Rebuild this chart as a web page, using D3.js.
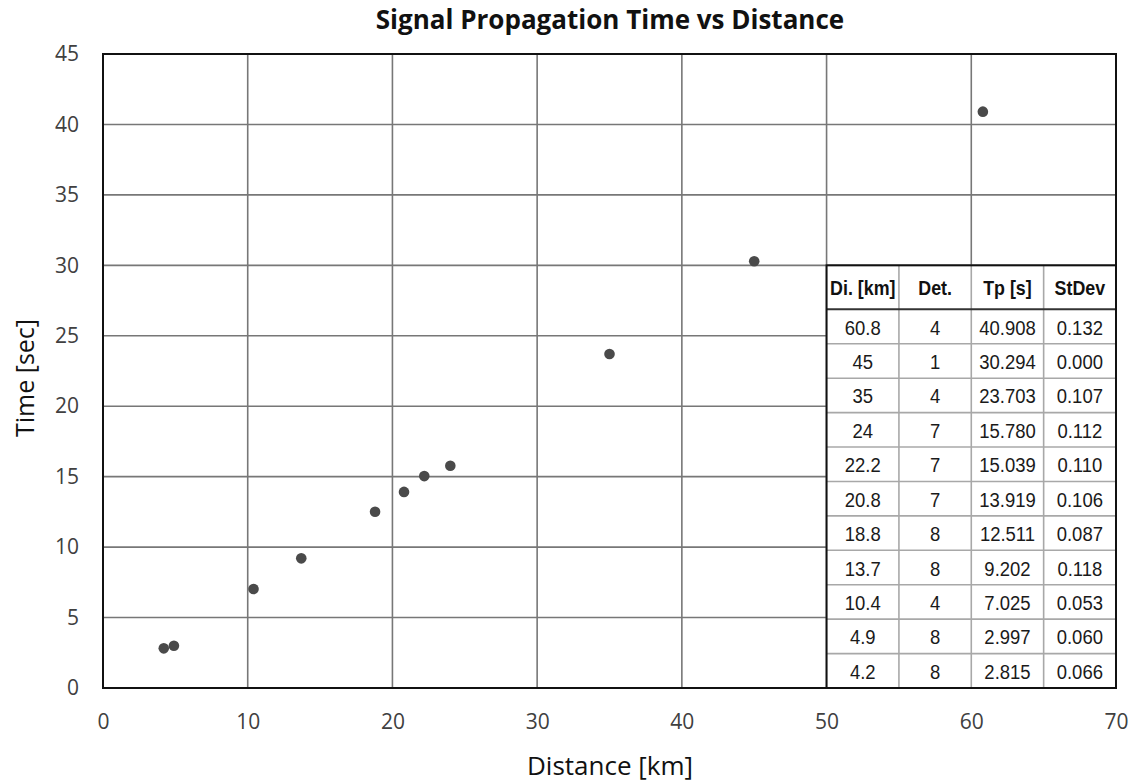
<!DOCTYPE html>
<html><head><meta charset="utf-8">
<script src="https://cdn.jsdelivr.net/npm/d3@7"></script>
<style>body{margin:0;background:#fff}</style>
</head><body>
<svg id="c" width="1138" height="784"></svg>
<script>
// Data
const distances = ["60.8","45","35","24","22.2","20.8","18.8","13.7","10.4","4.9","4.2"];
const detections = ["4","1","4","7","7","7","8","8","4","8","8"];
const tpValues = ["40.908","30.294","23.703","15.780","15.039","13.919","12.511","9.202","7.025","2.997","2.815"];
const stdevValues = ["0.132","0.000","0.107","0.112","0.110","0.106","0.087","0.118","0.053","0.060","0.066"];
const tableHeaders = ["Di. [km]","Det.","Tp [s]","StDev"];
const xTicks = [0,10,20,30,40,50,60,70];
const yTicks = [0,5,10,15,20,25,30,35,40,45];
const tableXRange = [50,70];
const tableYRange = [0,30];

const svg = d3.select("#c");
const L=103, R=1116, T=54, B=688;
const x = d3.scaleLinear().domain([0,70]).range([L,R]);
const y = d3.scaleLinear().domain([0,45]).range([B,T]);
const labFont = "'Open Sans','Noto Sans',sans-serif";
const tblFont = "'Liberation Sans',Arial,sans-serif";

// grid
svg.append("g").selectAll("line").data(xTicks.slice(1,-1)).join("line")
  .attr("x1",d=>x(d)).attr("x2",d=>x(d)).attr("y1",T).attr("y2",B)
  .attr("stroke","#777").attr("stroke-width",1.6);
svg.append("g").selectAll("line").data(yTicks.slice(1,-1)).join("line")
  .attr("y1",d=>y(d)).attr("y2",d=>y(d)).attr("x1",L).attr("x2",R)
  .attr("stroke","#777").attr("stroke-width",1.6);

// axes (labels only)
const xAxis = d3.axisBottom(x).tickValues(xTicks).tickSize(0).tickPadding(26);
const gx = svg.append("g").attr("transform",`translate(0,${B})`).call(xAxis);
gx.select(".domain").remove();
gx.selectAll("text").attr("font-family",labFont).attr("font-size",21).attr("fill","#404040");
const yAxis = d3.axisLeft(y).tickValues(yTicks).tickSize(0).tickPadding(24);
const gy = svg.append("g").attr("transform",`translate(${L},0)`).call(yAxis);
gy.select(".domain").remove();
gy.selectAll("text").attr("font-family",labFont).attr("font-size",21).attr("fill","#404040");

// points
const pts = distances.map((d,i)=>({x:+d,y:+tpValues[i]}));
svg.append("g").selectAll("circle").data(pts).join("circle")
  .attr("cx",d=>x(d.x)).attr("cy",d=>y(d.y)).attr("r",5.3).attr("fill","#4a4a4a");

// table
const tx0=x(tableXRange[0]), tx1=x(tableXRange[1]), ty0=y(tableYRange[1]), ty1=y(tableYRange[0]);
const headerH = 44;
const nRows = distances.length;
const rowH = (ty1-ty0-headerH)/nRows;
const colW = (tx1-tx0)/tableHeaders.length;
const tg = svg.append("g");
tg.append("rect").attr("x",tx0).attr("y",ty0).attr("width",tx1-tx0).attr("height",ty1-ty0).attr("fill","#fff");
tg.selectAll("line.v").data(d3.range(1,tableHeaders.length)).join("line").attr("class","v")
  .attr("x1",i=>tx0+i*colW).attr("x2",i=>tx0+i*colW).attr("y1",ty0).attr("y2",ty1)
  .attr("stroke","#a8a8a8").attr("stroke-width",1.6);
tg.selectAll("line.h").data(d3.range(0,nRows)).join("line").attr("class","h")
  .attr("x1",tx0).attr("x2",tx1).attr("y1",i=>ty0+headerH+i*rowH).attr("y2",i=>ty0+headerH+i*rowH)
  .attr("stroke",i=>i===0?"#333":"#a8a8a8").attr("stroke-width",i=>i===0?2:1.6);
tg.append("g").selectAll("text").data(tableHeaders).join("text")
  .attr("transform",(d,i)=>`translate(${tx0+(i+0.5)*colW},${ty0+headerH/2+7.5}) scale(0.85,1)`)
  .attr("text-anchor","middle").attr("font-family",tblFont).attr("font-weight","bold").attr("font-size",21)
  .attr("fill","#111").text(d=>d);
const rows = distances.map((d,i)=>[d,detections[i],tpValues[i],stdevValues[i]]);
rows.forEach((r,ri)=>{
  tg.append("g").selectAll("text").data(r).join("text")
    .attr("transform",(d,i)=>`translate(${tx0+(i+0.5)*colW},${ty0+headerH+ri*rowH+rowH/2+8}) scale(0.88,1)`)
    .attr("text-anchor","middle").attr("font-family",tblFont).attr("font-size",21)
    .attr("fill","#1a1a1a").text(d=>d);
});
tg.append("rect").attr("x",tx0).attr("y",ty0).attr("width",tx1-tx0).attr("height",ty1-ty0)
  .attr("fill","none").attr("stroke","#111").attr("stroke-width",2);

// plot border
svg.append("rect").attr("x",L).attr("y",T).attr("width",R-L).attr("height",B-T)
  .attr("fill","none").attr("stroke","#111").attr("stroke-width",2);

// titles
svg.append("text").attr("x",610).attr("y",29).attr("text-anchor","middle")
  .attr("font-family",labFont).attr("font-weight","bold").attr("font-size",26).attr("fill","#111")
  .text("Signal Propagation Time vs Distance");
svg.append("text").attr("x",610).attr("y",775).attr("text-anchor","middle")
  .attr("font-family",labFont).attr("font-size",26).attr("fill","#111").text("Distance [km]");
svg.append("text").attr("transform","translate(34,378) rotate(-90)").attr("text-anchor","middle")
  .attr("font-family",labFont).attr("font-size",25).attr("fill","#111").text("Time [sec]");
</script>
</body></html>
